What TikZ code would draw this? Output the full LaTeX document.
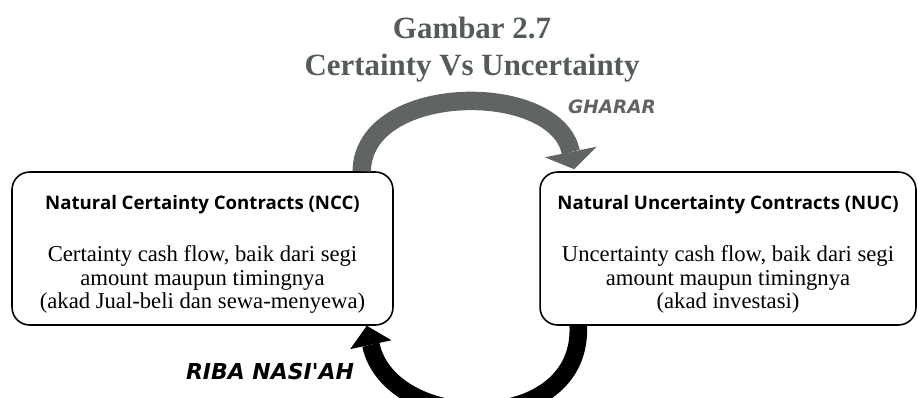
\documentclass[tikz,border=0pt]{standalone}
\usepackage{fontspec}
\setmainfont{Liberation Serif}
\newfontfamily\kepalafont{Open Sans}
\newfontfamily\labelfont{DejaVu Sans}
\usepackage{xcolor}
\usepackage{tikz}
\usetikzlibrary{positioning,arrows.meta,calc}
\definecolor{judulgray}{RGB}{84,92,88}
\definecolor{panahgray}{RGB}{96,100,98}
\newcommand{\akadheadfont}{\kepalafont\bfseries\fontsize{10.6}{12}\selectfont\rule{0pt}{15pt}}
\tikzset{
    akadbox/.style={draw, line width=0.9pt, rounded corners=10pt, align=center, minimum width=7.62cm, minimum height=3.06cm, inner sep=0pt, font=\fontsize{12.9}{13.4}\selectfont},
    akadjudul/.style={align=center, text=judulgray, font=\bfseries\fontsize{17.6}{21}\selectfont},
    akadarrow/.style={draw=panahgray, line width=10.5pt, -{Triangle[width=30pt, length=10pt, line width=0pt]}},
    ribaarrow/.style={draw=black, line width=10pt, -{Triangle[width=24pt, length=11pt, line width=0pt]}},
    akadlabel/.style={font=\labelfont\bfseries\itshape\fontsize{10.5}{12}\selectfont}
}

\begin{document}
\begin{tikzpicture}[x=0.02cm, y=-0.02cm]
    \clip (0,0) rectangle (918,397);
    \node[akadjudul] (judul) at (472,50) {Gambar 2.7\\Certainty Vs Uncertainty};

    \node[akadbox] (ncc) at (202.5,248.5) {{\akadheadfont Natural Certainty Contracts (NCC)}\\[16pt]
        Certainty cash flow, baik dari segi\\amount maupun timingnya\\(akad Jual-beli dan sewa-menyewa)};
    \node[akadbox, minimum width=7.52cm] (nuc) at (728,248.5) {{\akadheadfont Natural Uncertainty Contracts (NUC)}\\[16pt]
        Uncertainty cash flow, baik dari segi\\amount maupun timingnya\\(akad investasi)};

    % panah atas dan bawah
    \draw[akadarrow] ($(ncc.north east)+(-32,0)$) .. controls (363,82) and (556,80) .. ($(nuc.north west)+(35,-2)$);
    \draw[ribaarrow] ($(nuc.south west)+(39,0)$) .. controls (583,437) and (390,434) .. ($(ncc.south east)+(-27,0)$);

    \node[akadlabel, text=panahgray] (gharar) at (612,107) {GHARAR};
    \node[akadlabel, font=\labelfont\bfseries\itshape\fontsize{12.5}{14}\selectfont] (riba) at (270,371) {RIBA NASI'AH};
\end{tikzpicture}
\end{document}
